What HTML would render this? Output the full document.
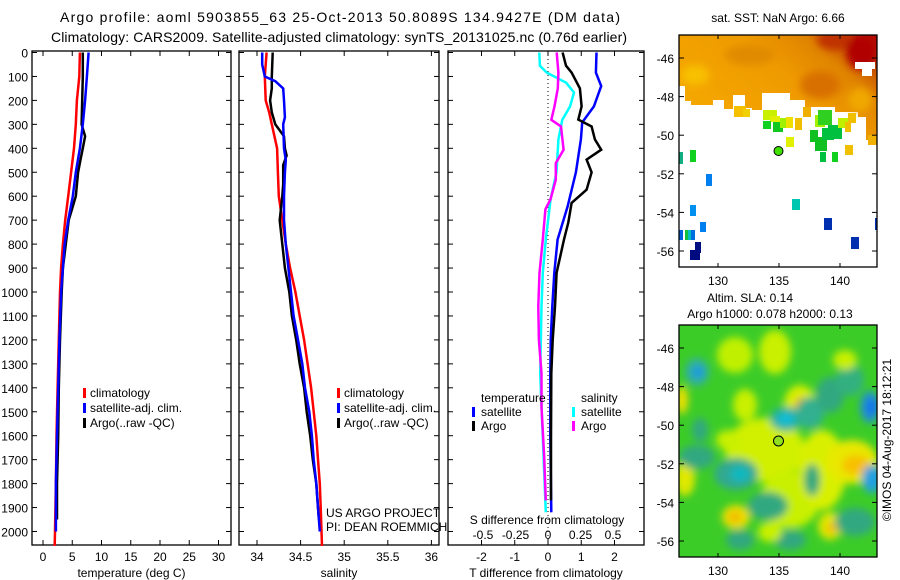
<!DOCTYPE html>
<html><head><meta charset="utf-8"><style>
html,body{margin:0;padding:0;background:#fff;}
svg{display:block;font-family:"Liberation Sans",sans-serif;}
</style></head><body>
<svg id="fig" width="900" height="580" viewBox="0 0 900 580" xmlns="http://www.w3.org/2000/svg">
<defs>
<linearGradient id="sstg" x1="0" y1="0.6" x2="1" y2="0">
<stop offset="0" stop-color="#f5a800"/><stop offset="0.5" stop-color="#ee9a00"/><stop offset="0.72" stop-color="#e08400"/><stop offset="0.86" stop-color="#c85000"/><stop offset="1" stop-color="#b00000"/>
</linearGradient>
<filter id="blur6" x="-30%" y="-30%" width="160%" height="160%"><feGaussianBlur stdDeviation="4"/></filter>
<clipPath id="m1clip"><rect x="679" y="35" width="198" height="232"/></clipPath>
<clipPath id="m2clip"><rect x="679" y="325" width="198" height="232"/></clipPath>
</defs>
<g id="titles" font-size="14" fill="#000">
<text x="340" y="22" text-anchor="middle" textLength="560">Argo profile: aoml 5903855_63 25-Oct-2013 50.8089S 134.9427E (DM data)</text>
<text x="339" y="42" text-anchor="middle" textLength="576">Climatology: CARS2009. Satellite-adjusted climatology: synTS_20131025.nc (0.76d earlier)</text>
</g>
<g id="panels"></g>
<g id="maps"></g>
</svg>
<script>
// ---- data ----
const depthTicks = [0,100,200,300,400,500,600,700,800,900,1000,1100,1200,1300,1400,1500,1600,1700,1800,1900,2000];
const tempTicks = [0,5,10,15,20,25,30];
const salTicks = [34,34.5,35,35.5,36];
const tdiffTicks = [-2,-1,0,1,2];
const sdiffTicks = [-0.5,-0.25,0,0.25,0.5];
const sdiffTickLabels = ["-0.5","-0.25","0","0.25","0.5"];

const climTDepth = [0,100,200,300,400,500,600,700,800,900,1000,1200,1400,1600,1800,2000,2060];
const climTemp =   [6.3,6.2,5.8,5.6,5.3,4.8,4.3,3.8,3.4,3.1,2.9,2.7,2.5,2.3,2.2,2.05,2.0];
const satTDepth = [0,100,200,300,400,500,600,700,800,900,1000,1200,1400,1600,1800,2000];
const satTemp =   [7.8,7.5,7.2,6.8,6.3,5.6,5.1,4.3,3.7,3.4,3.1,2.8,2.6,2.4,2.2,2.2];
const argoTDepth = [0,100,200,300,350,400,450,500,600,650,700,800,900,1000,1200,1400,1600,1800,1950];
const argoTemp =   [6.8,6.8,6.7,6.6,7.2,6.8,6.4,6.0,5.6,5.0,4.4,3.9,3.4,3.2,2.9,2.7,2.6,2.4,2.4];

const climSDepth = [0,100,200,250,300,400,500,600,700,800,900,1000,1100,1200,1300,1400,1500,1600,1700,1800,1900,2060];
const climSal =    [34.11,34.09,34.10,34.14,34.17,34.23,34.24,34.25,34.29,34.33,34.38,34.44,34.49,34.54,34.58,34.62,34.65,34.68,34.70,34.72,34.73,34.745];
const satSDepth = [0,50,100,120,150,200,270,300,400,450,500,600,700,800,900,1000,1100,1200,1300,1400,1500,1600,1700,1800,1900,2000];
const satSal =    [34.06,34.06,34.09,34.21,34.30,34.31,34.32,34.30,34.31,34.33,34.32,34.31,34.31,34.33,34.36,34.39,34.42,34.47,34.52,34.55,34.60,34.63,34.65,34.68,34.70,34.72];
const argoSDepth = [0,100,150,200,250,300,350,400,430,470,500,550,600,700,800,900,1000,1100,1200,1300,1400,1500,1600,1700,1800,1900,1950];
const argoSal =    [34.18,34.17,34.17,34.15,34.17,34.21,34.31,34.32,34.34,34.30,34.30,34.30,34.29,34.26,34.29,34.32,34.37,34.40,34.45,34.49,34.54,34.57,34.61,34.64,34.68,34.70,34.71];

const dSatTDepth = [0,84,140,225,292,363,500,643,781,920,1060,1200,1340,1610,1920];
const dSatT =      [1.46,1.44,1.6,1.38,1.03,0.99,0.84,0.59,0.29,0.19,0.13,0.08,0.07,0.07,0.1];
const dArgoTDepth = [0,55,84,150,225,280,309,363,406,447,500,573,628,710,781,920,1060,1200,1340,1610,1870];
const dArgoT =      [0.44,0.54,0.71,0.96,1.01,0.91,1.31,1.41,1.6,1.16,1.31,1.16,0.71,0.61,0.48,0.26,0.21,0.14,0.1,0.09,0.09];
const dSatSDepth = [0,55,84,126,167,225,281,363,500,612,781,920,1060,1340,1610,1920];
const dSatS =      [-0.067,-0.062,-0.01,0.14,0.2,0.17,0.11,0.08,0.065,0.02,-0.017,-0.04,-0.05,-0.06,-0.04,-0.017];
const dArgoSDepth = [0,84,150,225,281,309,406,462,531,612,655,781,920,1060,1200,1340,1480,1680,1870];
const dArgoS =      [0.067,0.08,0.075,0.05,0.025,0.1,0.12,0.06,0.06,0.02,-0.02,-0.04,-0.065,-0.075,-0.07,-0.05,-0.05,-0.03,-0.017];

const latTicks = [-46,-48,-50,-52,-54,-56];
const lonTicks = [130,135,140];

// ---- helpers ----
const NS='http://www.w3.org/2000/svg';
function mk(tag, attrs, parent){const e=document.createElementNS(NS,tag);for(const k in attrs)e.setAttribute(k,attrs[k]);parent.appendChild(e);return e;}
const yTop=51, yBot=545;
const yD = d => 52.5 + d*0.2395;
const P = document.getElementById('panels');

function panel(name,x0,x1,xf,ticks,labels,title){
  const g=mk('g',{},P);
  
  
  const r=mk('rect',{x:x0,y:yTop,width:x1-x0,height:yBot-yTop,fill:'none',stroke:'#000','stroke-width':1.3},g);
  
  
  depthTicks.forEach(d=>{
    const y=yD(d);
    mk('line',{x1:x0,x2:x0+5,y1:y,y2:y,stroke:'#000'},g);
    mk('line',{x1:x1-5,x2:x1,y1:y,y2:y,stroke:'#000'},g);
  });
  ticks.forEach((v,i)=>{
    const x=xf(v);
    mk('line',{x1:x,x2:x,y1:yBot,y2:yBot-5,stroke:'#000'},g);
    mk('line',{x1:x,x2:x,y1:yTop,y2:yTop+5,stroke:'#000'},g);
    if(labels){const t=mk('text',{x:x,y:561,'text-anchor':'middle','font-size':12},g);t.textContent=labels[i];
      
      }
  });
  if(title){const t=mk('text',{x:(x0+x1)/2,y:577,'text-anchor':'middle','font-size':12},g);t.textContent=title;
    
    }
  return g;
}
function line(g,xf,depths,vals,color,name,w){
  const pts=depths.map((d,i)=>xf(vals[i]).toFixed(1)+','+yD(d).toFixed(1)).join(' ');
  const p=mk('polyline',{points:pts,fill:'none',stroke:color,'stroke-width':w||2.5,'stroke-linejoin':'miter'},g);
  
  
}
function txt(g,x,y,s,name,size,anchor){const t=mk('text',{x:x,y:y,'font-size':size||12,'text-anchor':anchor||'start'},g);t.textContent=s;
  
  return t;}
function mark(g,x,y,c){mk('rect',{x:x,y:y-9,width:3,height:10,fill:c},g);}

const gy=mk('g',{},P);


depthTicks.forEach(d=>{txt(gy,28,yD(d)+5,String(d),'depth-tick-label',12,'end');});

// panel 1: temperature
const tx = v => 43 + v*5.85;
const g1=panel('temperature-panel',32,231,tx,tempTicks,tempTicks.map(String),'temperature (deg C)');
line(g1,tx,climTDepth,climTemp,'#ff0000','temp-climatology-line');
line(g1,tx,argoTDepth,argoTemp,'#000','temp-argo-line');
line(g1,tx,satTDepth,satTemp,'#0000ff','temp-satellite-line');
[['climatology','#f00',397],['satellite-adj. clim.','#00f',412],['Argo(..raw -QC)','#000',427]].forEach(([s,c,y])=>{mark(g1,83,y,c);txt(g1,90,y,s,'temp-legend-entry');});

// panel 2: salinity
const sx = v => 257 + (v-34)*87.2;
const g2=panel('salinity-panel',239,439,sx,salTicks,['34','34.5','35','35.5','36'],'salinity');
line(g2,sx,climSDepth,climSal,'#ff0000','sal-climatology-line');
line(g2,sx,argoSDepth,argoSal,'#000','sal-argo-line');
line(g2,sx,satSDepth,satSal,'#0000ff','sal-satellite-line');
[['climatology','#f00',397],['satellite-adj. clim.','#00f',412],['Argo(..raw -QC)','#000',427]].forEach(([s,c,y])=>{mark(g2,337,y,c);txt(g2,344,y,s,'sal-legend-entry');});
txt(g2,326,517,'US ARGO PROJECT','project-credit');
txt(g2,326,531,'PI: DEAN ROEMMICH','pi-credit');

// panel 3: differences
const dtx = v => 548 + v*33.25;
const dsx = v => 548 + v*130;
const g3=panel('difference-panel',448,644,dtx,tdiffTicks,tdiffTicks.map(String),'T difference from climatology');
mk('line',{x1:548,x2:548,y1:yTop,y2:yBot,stroke:'#000','stroke-dasharray':'1,3'},g3);
line(g3,dtx,dSatTDepth,dSatT,'#0000ff','tdiff-satellite-line');
line(g3,dtx,dArgoTDepth,dArgoT,'#000','tdiff-argo-line');
line(g3,dsx,dSatSDepth,dSatS,'#00ffff','sdiff-satellite-line');
line(g3,dsx,dArgoSDepth,dArgoS,'#ff00ff','sdiff-argo-line');
txt(g3,481,402,'temperature','diff-legend-temperature-header');
mark(g3,472,416,'#00f');txt(g3,481,416,'satellite','diff-legend-temp-satellite');
mark(g3,472,430,'#000');txt(g3,481,430,'Argo','diff-legend-temp-argo');
txt(g3,581,402,'salinity','diff-legend-salinity-header');
mark(g3,572,416,'#0ff');txt(g3,581,416,'satellite','diff-legend-sal-satellite');
mark(g3,572,430,'#f0f');txt(g3,581,430,'Argo','diff-legend-sal-argo');
txt(g3,547,524,'S difference from climatology','sdiff-axis-title',12,'middle');
sdiffTicks.forEach((v,i)=>txt(g3,dsx(v),539,sdiffTickLabels[i],'sdiff-tick-label',12,'middle'));

// ---- maps ----
const M=document.getElementById('maps');
const lonX = lon => 718 + (lon-130)*12.2;
function mapAxes(g,top,lat0y,name){
  const latY = lat => lat0y + (-46-lat)*19.3;
  mk('rect',{x:679,y:top,width:198,height:232,fill:'none',stroke:'#000','stroke-width':1.3},g);
  latTicks.forEach(l=>{const y=latY(l);mk('line',{x1:679,x2:684,y1:y,y2:y,stroke:'#000'},g);mk('line',{x1:872,x2:877,y1:y,y2:y,stroke:'#000'},g);
    txt(g,674,y+5,String(l),name+'-lat-label',12,'end');});
  lonTicks.forEach(l=>{const x=lonX(l);mk('line',{x1:x,x2:x,y1:top,y2:top+4,stroke:'#000'},g);mk('line',{x1:x,x2:x,y1:top+232,y2:top+228,stroke:'#000'},g);
    txt(g,x,top+250,String(l),name+'-lon-label',12,'middle');});
  return latY;
}
// map 1 SST
const m1=mk('g',{},M);


txt(m1,778,22,'sat. SST: NaN Argo: 6.66','sst-map-title',12,'middle');
const c1=mk('g',{'clip-path':'url(#m1clip)'},m1);
mk('polygon',{points:'679,35 877,35 877,140 866,140 866,117 858,117 858,112 835,112 835,107 805,107 805,100 790,100 790,93 762,93 762,110 752,110 752,108 745,108 745,95 733,95 733,109 724,109 724,100 713,100 713,105 691,105 691,101 685,101 685,86 679,86',fill:'url(#sstg)'},c1);
const gs=mk('g',{filter:'url(#blur6)'},c1);
[[695,75,14,10,'#f8c000'],[750,55,25,10,'#e08a00'],[835,40,18,10,'#c03000'],[862,52,16,18,'#b00000'],[820,85,20,14,'#d87000'],[860,100,12,12,'#f0a800']].forEach(b=>mk('ellipse',{cx:b[0],cy:b[1],rx:b[2],ry:b[3],fill:b[4]},gs));
[[855,62,20,7,'#fff'],[862,68,10,8,'#fff']].forEach(r=>mk('rect',{x:r[0],y:r[1],width:r[2],height:r[3],fill:r[4]},c1));
const patches=[[734,106,12,11,'#f5c000'],[743,109,7,8,'#f0d000'],[763,110,14,10,'#c8f000'],[770,116,10,6,'#e0f000'],[763,121,8,8,'#10d020'],[773,122,10,10,'#10c820'],[780,118,12,10,'#a0f000'],[786,117,7,11,'#f0e000'],[795,118,7,12,'#f0c000'],[803,107,8,10,'#f0b000'],[786,137,8,10,'#e0f000'],[815,115,10,12,'#a0f000'],[818,110,14,15,'#30d020'],[810,130,8,12,'#10c020'],[815,137,12,14,'#10c020'],[822,128,12,12,'#00c040'],[828,125,14,14,'#00c040'],[838,118,10,10,'#c0f000'],[845,122,6,10,'#f0c000'],[848,113,8,10,'#f0c000'],[845,145,8,10,'#f0c000'],[820,152,6,10,'#00c040'],[832,152,6,10,'#10d020'],[868,135,9,10,'#f0b000'],[679,152,4,12,'#10b080'],[690,150,6,12,'#10d020'],[706,174,6,12,'#0080f0'],[690,205,6,11,'#0090f0'],[700,222,6,10,'#0080f0'],[679,230,4,10,'#0060e0'],[685,230,4,10,'#10c040'],[688,230,4,10,'#00c0c0'],[691,230,4,10,'#0070e0'],[695,242,6,11,'#001080'],[690,250,10,10,'#000a80'],[792,199,8,11,'#00c8b0'],[824,218,8,12,'#0030b0'],[851,237,8,12,'#0030b0'],[875,218,3,12,'#0030b0']];
patches.forEach(r=>mk('rect',{x:r[0],y:r[1],width:r[2],height:r[3],fill:r[4]},c1));
mk('circle',{cx:778.5,cy:151,r:4.5,fill:'#40e000',stroke:'#000','stroke-width':1},m1);
mapAxes(m1,35,58,'sst-map');

// map 2 SLA
const m2=mk('g',{},M);


txt(m2,750,302,'Altim. SLA: 0.14','sla-map-title',12,'middle');
txt(m2,770,318,'Argo h1000: 0.078 h2000: 0.13','sla-map-subtitle',12,'middle');
const c2=mk('g',{'clip-path':'url(#m2clip)'},m2);
mk('rect',{x:679,y:325,width:198,height:232,fill:'#3ccc28'},c2);
const blobs=[[765,450,40,32,'#d0f000'],[790,500,30,28,'#c8f000'],[822,470,24,40,'#d8f000'],[852,462,26,22,'#e8e800'],[856,465,14,10,'#f8c000'],[800,405,16,20,'#d8f000'],[802,405,8,8,'#f0b000'],[775,352,16,22,'#c8f000'],[735,355,18,18,'#c0f000'],[745,405,12,16,'#c8f000'],[697,372,12,14,'#30b0a0'],[698,372,6,6,'#1898e0'],[786,419,16,12,'#20b0a0'],[786,419,8,5,'#10c0e0'],[810,413,14,16,'#30b090'],[870,407,10,16,'#2090d0'],[872,407,5,8,'#1070f0'],[872,479,10,14,'#20a0e0'],[736,474,22,16,'#30a890'],[740,474,10,8,'#10b8c0'],[768,506,20,14,'#30a880'],[812,480,8,16,'#30a880'],[736,517,14,12,'#f0e000'],[735,517,6,5,'#f0b000'],[685,478,10,18,'#e0e800'],[682,400,6,14,'#f0e000'],[697,457,18,12,'#30a880'],[790,540,16,10,'#30a880'],[740,540,14,10,'#30a880'],[830,526,12,14,'#e0e800'],[832,528,6,6,'#f0c000'],[855,522,20,14,'#30a880'],[770,532,12,10,'#c8f000'],[728,440,12,10,'#c8f000'],[830,395,14,18,'#30a880'],[850,380,14,16,'#30b080'],[700,430,8,12,'#30a880'],[845,360,12,10,'#c8f000']];
const gb=mk('g',{filter:'url(#blur6)'},c2);
blobs.forEach(b=>mk('ellipse',{cx:b[0],cy:b[1],rx:b[2],ry:b[3],fill:b[4]},gb));
mk('circle',{cx:778.5,cy:441,r:5,fill:'#90e020',stroke:'#000','stroke-width':1},m2);
mapAxes(m2,325,348,'sla-map');
const cr=mk('text',{x:0,y:0,'font-size':12,'text-anchor':'middle',transform:'translate(891,440) rotate(-90)'},M);
cr.textContent='©IMOS 04-Aug-2017 18:12:21';


</script>
</body></html>
